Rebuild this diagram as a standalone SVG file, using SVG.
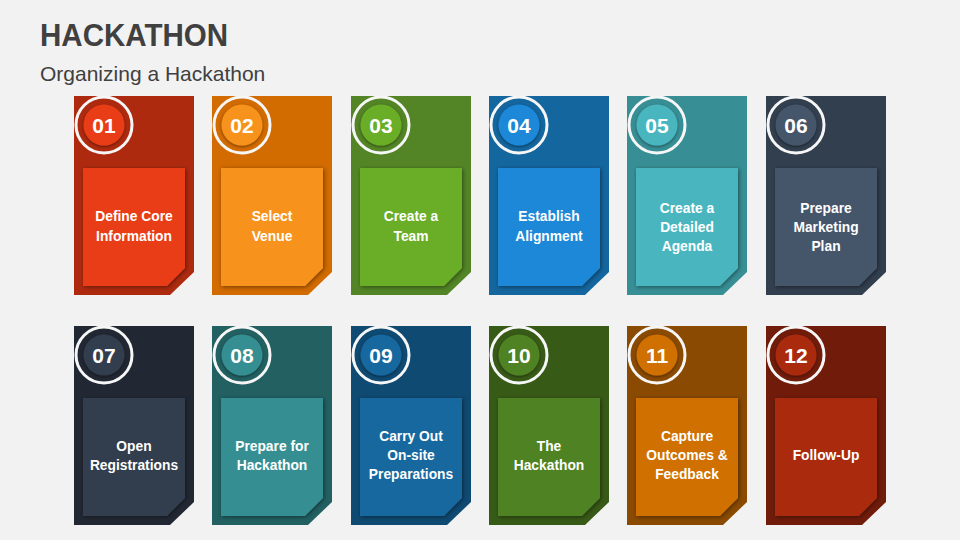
<svg xmlns="http://www.w3.org/2000/svg" width="960" height="540" viewBox="0 0 960 540">
<defs>
<filter id="sh" x="-20%" y="-20%" width="140%" height="140%">
<feDropShadow dx="1" dy="1" stdDeviation="2" flood-color="#000" flood-opacity="0.45"/>
</filter>
<filter id="csh" x="-30%" y="-30%" width="160%" height="160%">
<feDropShadow dx="0" dy="1" stdDeviation="1.6" flood-color="#000" flood-opacity="0.5"/>
</filter>
<path id="outer" d="M0,0 H120 V176 L96,199 H0 Z"/>
<path id="panel" d="M9,72 H111 V172 L93,190 H9 Z"/>
</defs>
<style>
.title{font-family:"Liberation Sans",Arial,sans-serif;font-weight:bold;font-size:31px;fill:#404040}
.sub{font-family:"Liberation Sans",Arial,sans-serif;font-size:21px;fill:#404040}
.num{font-family:"Liberation Sans",Arial,sans-serif;font-weight:bold;font-size:21px;fill:#fff;text-anchor:middle}
.lbl{font-family:"Liberation Sans",Arial,sans-serif;font-weight:bold;font-size:13.8px;fill:#fff;text-anchor:middle}
.ring{stroke:#F6F6F6;stroke-width:3}
</style>
<rect width="960" height="540" fill="#F2F2F2"/>
<text class="title" x="40" y="46" textLength="188" lengthAdjust="spacingAndGlyphs">HACKATHON</text>
<text class="sub" x="40" y="81">Organizing a Hackathon</text>

<g id="node01" transform="translate(74,96)">
<use href="#outer" fill="#AE2A0F"/><circle cx="30" cy="29" r="28" fill="#AE2A0F" class="ring"/>
<circle cx="30" cy="29" r="20.5" fill="#E83E17" filter="url(#csh)"/><text class="num" x="30" y="36.5">01</text>
<use href="#panel" fill="#E83E17" filter="url(#sh)"/>
<text class="lbl"><tspan x="60" y="125">Define Core</tspan><tspan x="60" y="145">Information</tspan></text>
</g>
<g id="node02" transform="translate(212,96)">
<use href="#outer" fill="#D26B00"/><circle cx="30" cy="29" r="28" fill="#D26B00" class="ring"/>
<circle cx="30" cy="29" r="20.5" fill="#F7931E" filter="url(#csh)"/><text class="num" x="30" y="36.5">02</text>
<use href="#panel" fill="#F7931E" filter="url(#sh)"/>
<text class="lbl"><tspan x="60" y="125">Select</tspan><tspan x="60" y="145">Venue</tspan></text>
</g>
<g id="node03" transform="translate(351,96)">
<use href="#outer" fill="#538526"/><circle cx="30" cy="29" r="28" fill="#538526" class="ring"/>
<circle cx="30" cy="29" r="20.5" fill="#6BAD26" filter="url(#csh)"/><text class="num" x="30" y="36.5">03</text>
<use href="#panel" fill="#6BAD26" filter="url(#sh)"/>
<text class="lbl"><tspan x="60" y="125">Create a</tspan><tspan x="60" y="145">Team</tspan></text>
</g>
<g id="node04" transform="translate(489,96)">
<use href="#outer" fill="#14669F"/><circle cx="30" cy="29" r="28" fill="#14669F" class="ring"/>
<circle cx="30" cy="29" r="20.5" fill="#1B88D7" filter="url(#csh)"/><text class="num" x="30" y="36.5">04</text>
<use href="#panel" fill="#1B88D7" filter="url(#sh)"/>
<text class="lbl"><tspan x="60" y="125">Establish</tspan><tspan x="60" y="145">Alignment</tspan></text>
</g>
<g id="node05" transform="translate(627,96)">
<use href="#outer" fill="#378F95"/><circle cx="30" cy="29" r="28" fill="#378F95" class="ring"/>
<circle cx="30" cy="29" r="20.5" fill="#4AB6BF" filter="url(#csh)"/><text class="num" x="30" y="36.5">05</text>
<use href="#panel" fill="#4AB6BF" filter="url(#sh)"/>
<text class="lbl"><tspan x="60" y="117">Create a</tspan><tspan x="60" y="136">Detailed</tspan><tspan x="60" y="155">Agenda</tspan></text>
</g>
<g id="node06" transform="translate(766,96)">
<use href="#outer" fill="#323F4F"/><circle cx="30" cy="29" r="28" fill="#323F4F" class="ring"/>
<circle cx="30" cy="29" r="20.5" fill="#44546A" filter="url(#csh)"/><text class="num" x="30" y="36.5">06</text>
<use href="#panel" fill="#44546A" filter="url(#sh)"/>
<text class="lbl"><tspan x="60" y="117">Prepare</tspan><tspan x="60" y="136">Marketing</tspan><tspan x="60" y="155">Plan</tspan></text>
</g>

<g id="node07" transform="translate(74,326)">
<use href="#outer" fill="#222833"/><circle cx="30" cy="29" r="28" fill="#222833" class="ring"/>
<circle cx="30" cy="29" r="20.5" fill="#333D4E" filter="url(#csh)"/><text class="num" x="30" y="36.5">07</text>
<use href="#panel" fill="#333D4E" filter="url(#sh)"/>
<text class="lbl"><tspan x="60" y="125">Open</tspan><tspan x="60" y="144">Registrations</tspan></text>
</g>
<g id="node08" transform="translate(212,326)">
<use href="#outer" fill="#226062"/><circle cx="30" cy="29" r="28" fill="#226062" class="ring"/>
<circle cx="30" cy="29" r="20.5" fill="#358F92" filter="url(#csh)"/><text class="num" x="30" y="36.5">08</text>
<use href="#panel" fill="#358F92" filter="url(#sh)"/>
<text class="lbl"><tspan x="60" y="125">Prepare for</tspan><tspan x="60" y="144">Hackathon</tspan></text>
</g>
<g id="node09" transform="translate(351,326)">
<use href="#outer" fill="#0F4A72"/><circle cx="30" cy="29" r="28" fill="#0F4A72" class="ring"/>
<circle cx="30" cy="29" r="20.5" fill="#15679F" filter="url(#csh)"/><text class="num" x="30" y="36.5">09</text>
<use href="#panel" fill="#15679F" filter="url(#sh)"/>
<text class="lbl"><tspan x="60" y="115">Carry Out</tspan><tspan x="60" y="134">On-site</tspan><tspan x="60" y="153">Preparations</tspan></text>
</g>
<g id="node10" transform="translate(489,326)">
<use href="#outer" fill="#385A17"/><circle cx="30" cy="29" r="28" fill="#385A17" class="ring"/>
<circle cx="30" cy="29" r="20.5" fill="#4F8223" filter="url(#csh)"/><text class="num" x="30" y="36.5">10</text>
<use href="#panel" fill="#4F8223" filter="url(#sh)"/>
<text class="lbl"><tspan x="60" y="125">The</tspan><tspan x="60" y="144">Hackathon</tspan></text>
</g>
<g id="node11" transform="translate(627,326)">
<use href="#outer" fill="#8A4A02"/><circle cx="30" cy="29" r="28" fill="#8A4A02" class="ring"/>
<circle cx="30" cy="29" r="20.5" fill="#CF6F05" filter="url(#csh)"/><text class="num" x="30" y="36.5">11</text>
<use href="#panel" fill="#CF6F05" filter="url(#sh)"/>
<text class="lbl"><tspan x="60" y="115">Capture</tspan><tspan x="60" y="134">Outcomes &amp;</tspan><tspan x="60" y="153">Feedback</tspan></text>
</g>
<g id="node12" transform="translate(766,326)">
<use href="#outer" fill="#711C0B"/><circle cx="30" cy="29" r="28" fill="#711C0B" class="ring"/>
<circle cx="30" cy="29" r="20.5" fill="#AA2A11" filter="url(#csh)"/><text class="num" x="30" y="36.5">12</text>
<use href="#panel" fill="#AA2A11" filter="url(#sh)"/>
<text class="lbl"><tspan x="60" y="134">Follow-Up</tspan></text>
</g>
<g id="connectors"/>
</svg>
